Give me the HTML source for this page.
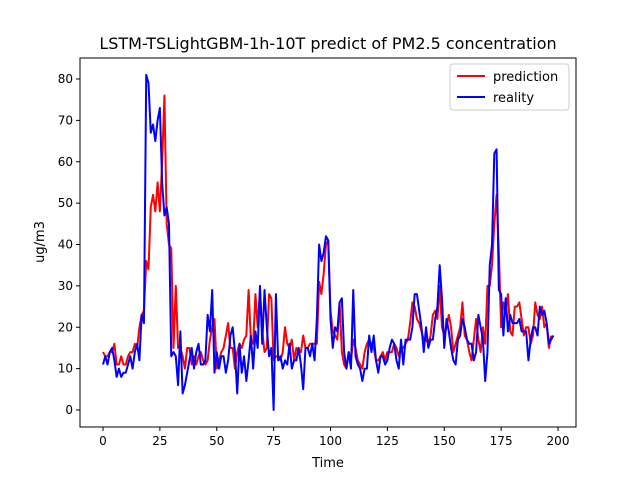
<!DOCTYPE html>
<html><head><meta charset="utf-8"><style>body{margin:0;background:#fff}svg{font-family:"DejaVu Sans","Liberation Sans",sans-serif}</style></head>
<body>
<svg id="chart" width="640" height="480" xmlns="http://www.w3.org/2000/svg">
<rect width="640" height="480" fill="#fff"/>
<text x="328" y="49" font-size="16" text-anchor="middle">LSTM-TSLightGBM-1h-10T predict of PM2.5 concentration</text>
<g id="plot"></g>
<rect x="80" y="58" width="496" height="369" fill="none" stroke="#000" stroke-width="1"/>
<text x="328" y="467" font-size="13" text-anchor="middle">Time</text>
<text transform="translate(44,242) rotate(-90)" font-size="13" text-anchor="middle">ug/m3</text>
<g>
<rect x="450" y="64" width="119" height="46" rx="3" fill="#fff" stroke="#ccc"/>
<line x1="457" y1="76" x2="485" y2="76" stroke="red" stroke-width="2"/>
<text x="493" y="81" font-size="13">prediction</text>
<line x1="457" y1="97" x2="485" y2="97" stroke="blue" stroke-width="2"/>
<text x="493" y="102" font-size="13">reality</text>
</g>
</svg>
<script>
const xTicks=[0,25,50,75,100,125,150,175,200];
const yTicks=[0,10,20,30,40,50,60,70,80];
const prediction=[14,13,13,14,14,16,11,11,13,11,11,13,14,14,16,15,20,23,24,36,34,49,52,48,55,48,60,76,45,40,39,15,30,15,15,13,10,15,15,11,13,11,13,14,12,11,12,17,20,22,10,12,14,15,18,21,15,15,10,14,16,15,17,18,29,17,16,28,20,29,19,14,15,28,27,12,13,13,12,14,20,16,15,17,12,15,14,14,18,15,15,16,16,16,16,31,28,33,40,41,24,19,18,17,26,14,11,10,14,12,17,15,12,11,10,14,16,17,16,15,12,12,13,14,12,14,14,14,16,15,13,15,15,16,17,21,26,25,22,21,19,17,17,16,18,23,24,22,30,20,18,20,23,20,14,16,18,20,26,18,17,14,12,17,22,17,14,20,16,30,30,35,45,52,38,20,26,24,28,19,18,25,25,26,22,18,20,20,16,18,26,23,22,25,20,21,15,18];
const reality=[11,13,11,14,15,12,8,10,8,9,9,11,13,10,14,16,12,23,21,81,79,67,69,65,70,73,55,47,49,45,13,14,13,6,19,4,6,9,12,15,10,14,16,11,11,12,23,19,29,9,14,10,13,13,9,12,18,20,14,4,16,9,13,7,12,18,10,19,15,30,16,29,20,13,15,0,28,12,13,10,12,11,16,10,12,12,15,11,5,15,15,13,16,12,22,40,36,38,42,41,22,15,20,19,26,27,14,10,14,10,29,13,11,10,7,10,10,18,14,18,12,9,13,13,11,12,15,17,16,12,10,17,11,17,17,17,20,28,28,24,20,14,20,15,17,17,22,25,35,27,15,22,19,15,12,11,17,18,22,20,17,16,16,12,14,23,20,17,7,14,35,40,62,63,29,28,18,27,19,23,21,21,21,22,19,19,19,12,17,20,20,18,25,23,24,21,16,17,18];
const L=80,R=576,T=58,B=427;
const xs=v=>103+v*(558-103)/200;
const ys=v=>410-v*(410-79)/80;
const NS="http://www.w3.org/2000/svg";
const g=document.getElementById('plot');
function mk(t,a){const e=document.createElementNS(NS,t);for(const k in a)e.setAttribute(k,a[k]);g.appendChild(e);return e;}
xTicks.forEach(t=>{
 const l=mk('line',{x1:xs(t),x2:xs(t),y1:B,y2:B+4,stroke:'#000'});
 
 
 const tx=mk('text',{x:xs(t),y:B+18,'font-size':12,'text-anchor':'middle'});tx.textContent=t;
 
 
});
yTicks.forEach(t=>{
 const l=mk('line',{x1:L-4,x2:L,y1:ys(t),y2:ys(t),stroke:'#000'});
 
 
 const tx=mk('text',{x:L-7,y:ys(t)+4,'font-size':12,'text-anchor':'end'});tx.textContent=t;
 
 
});
function line(arr,col,name){
 const p=mk('polyline',{points:arr.map((v,i)=>xs(i)+','+ys(v)).join(' '),fill:'none',stroke:col,'stroke-width':2,'stroke-linejoin':'round'});
 
 
}
line(prediction,'red','prediction-line');
line(reality,'blue','reality-line');
</script>
</body></html>
